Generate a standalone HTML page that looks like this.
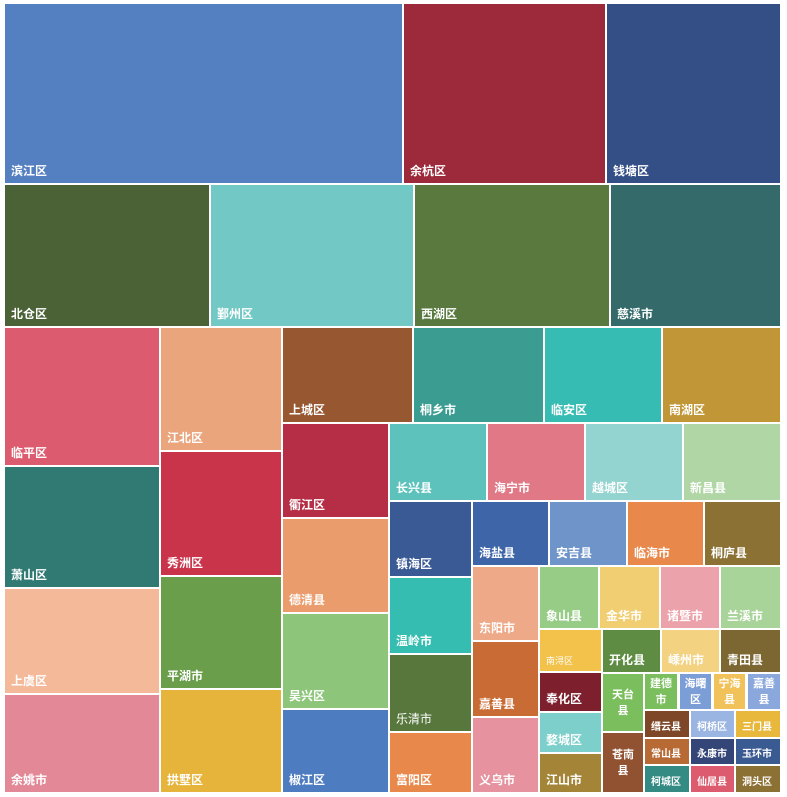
<!DOCTYPE html><html><head><meta charset="utf-8"><style>
body{margin:0;width:787px;height:797px;background:#fff;position:relative;overflow:hidden;font-family:"Liberation Sans","Noto Sans CJK SC",sans-serif}
div.r{position:absolute;box-sizing:border-box;color:#fff;font-size:12px;font-weight:bold}
div.r span{position:absolute;left:6px;bottom:4px;white-space:nowrap}
div.c span{left:0;right:0;text-align:center;bottom:auto;top:50%;transform:translateY(-50%);white-space:normal;line-height:16px;font-size:11px}
</style></head><body>
<script>
const R=[
["滨江区",5,4,402,183,"#5480c1"],["余杭区",404,4,605,183,"#9c2a3a"],["钱塘区",607,4,780,183,"#344e86"],
["北仓区",5,185,209,326,"#4a6236"],["鄞州区",211,185,413,326,"#72c8c5"],["西湖区",415,185,609,326,"#59793f"],["慈溪市",611,185,780,326,"#346b6a"],
["临平区",5,328,159,465,"#dc5b6f"],["萧山区",5,467,159,587,"#317a73"],["上虞区",5,589,159,693,"#f3b998"],["余姚市",5,695,159,792,"#e38896"],
["江北区",161,328,281,450,"#eba57c"],["秀洲区",161,452,281,575,"#c9344a"],["平湖市",161,577,281,688,"#6a9e4b"],["拱墅区",161,690,281,792,"#e6b43a"],
["上城区",283,328,412,422,"#975831"],["桐乡市",414,328,543,422,"#3b9d91"],["临安区",545,328,661,422,"#37bcb3"],["南湖区",663,328,780,422,"#c09636"],
["衢江区",283,424,388,517,"#b52e45"],["德清县",283,519,388,612,"#eb9c6c"],["吴兴区",283,614,388,708,"#8dc67a"],["椒江区",283,710,388,792,"#4e7cc0"],
["长兴县",390,424,486,500,"#5dc2bc"],["海宁市",488,424,584,500,"#e07886"],["越城区",586,424,682,500,"#93d4d0"],["新昌县",684,424,780,500,"#b1d6a5"],
["镇海区",390,502,471,576,"#3a5a96"],["温岭市",390,578,471,653,"#35bdb1"],["乐清市",390,655,471,731,"#57773d"],["富阳区",390,733,471,792,"#e8884a"],
["海盐县",473,502,548,565,"#3e65a8"],["安吉县",550,502,626,565,"#6e94c9"],["临海市",628,502,703,565,"#e8884a"],["桐庐县",705,502,780,565,"#8c7135"],
["东阳市",473,567,538,640,"#eeaa88"],["嘉善县",473,642,538,716,"#c96b34"],["义乌市",473,718,538,792,"#e6939f"],
["象山县",540,567,598,628,"#97cc86"],["金华市",600,567,659,628,"#f2ce72"],["诸暨市",661,567,719,628,"#eba2aa"],["兰溪市",721,567,780,628,"#a8d49a"],
["南浔区",540,630,601,671,"#f2c24a"],["开化县",603,630,660,672,"#5e8c42"],["嵊州市",662,630,719,672,"#f3d282"],["青田县",721,630,780,672,"#7c6632"],
["奉化区",540,673,601,711,"#7e1f2e"],["婺城区",540,713,601,752,"#7ccfcb"],["江山市",540,754,601,792,"#a48436"],
["天台县",603,674,643,731,"#7bbe5e",1],["苍南县",603,733,643,792,"#915231",1],
["建德市",645,674,677,709,"#7bbe5e",1],["海曙区",680,674,711,709,"#7c9ed6",1],["宁海县",714,674,745,709,"#f2c25a",1],["嘉善县",748,674,780,709,"#8aa8dc",1],
["缙云县",645,711,689,737,"#7e4828"],["柯桥区",691,711,734,737,"#9ab5e2"],["三门县",736,711,780,737,"#e8b83c"],
["常山县",645,739,689,764,"#b76a34"],["永康市",691,739,734,764,"#344677"],["玉环市",736,739,780,764,"#3a5a92"],
["柯城区",645,766,689,792,"#348b83"],["仙居县",691,766,734,792,"#dc5b6f"],["洞头区",736,766,780,792,"#8c7135"]];
for(const [t,x1,y1,x2,y2,c,cc] of R){const d=document.createElement('div');d.className='r'+(cc?' c':'');
d.style.cssText=`left:${x1}px;top:${y1}px;width:${x2-x1}px;height:${y2-y1}px;background:${c}`;
const w=x2-x1;if(w<50&&!cc)d.style.fontSize='10px';if(t=="南浔区"||t=="乐清市")d.style.fontWeight='normal';
if(t=="南浔区")d.style.fontSize='9px';
d.innerHTML='<span>'+(cc?t.slice(0,2)+'<br>'+t.slice(2):t)+'</span>';document.body.appendChild(d);}
</script>
</body></html>
